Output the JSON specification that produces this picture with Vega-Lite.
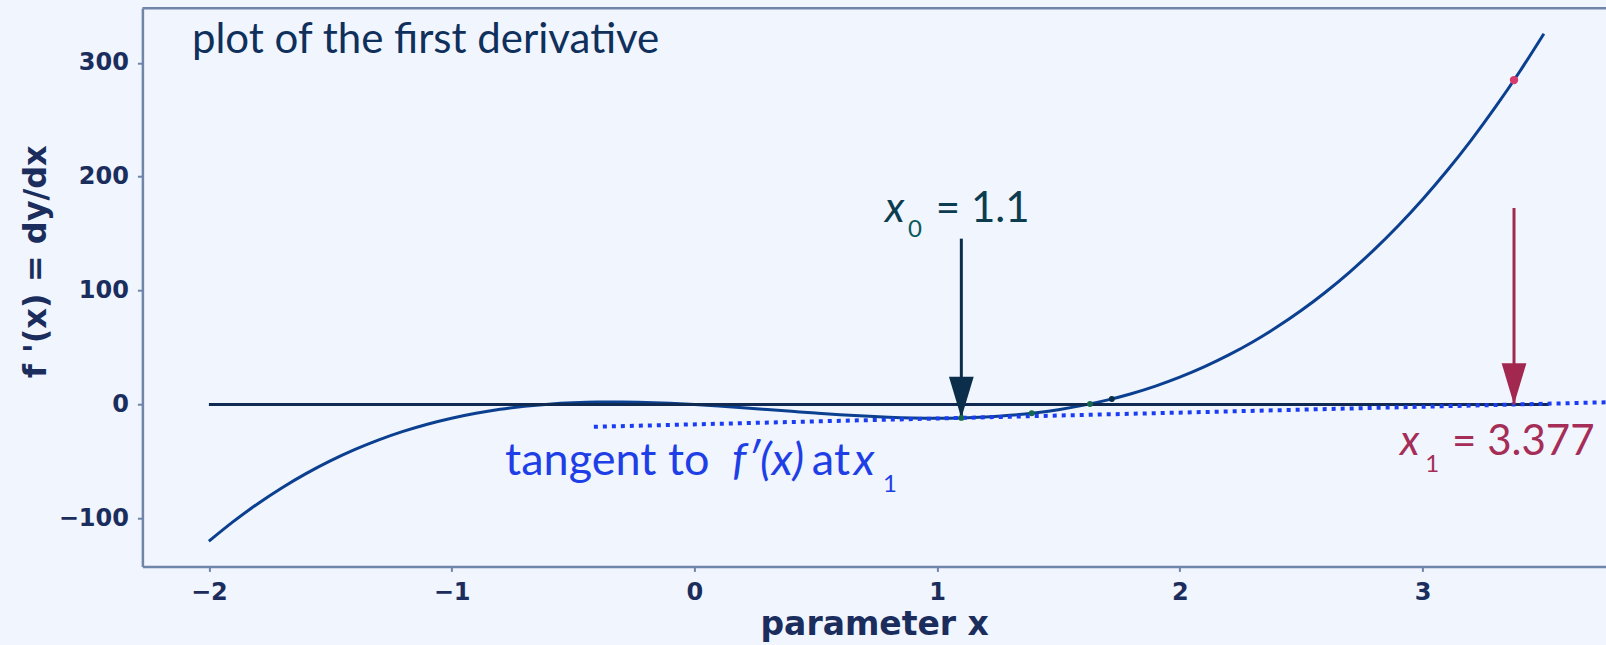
{
  "$schema": "https://vega.github.io/schema/vega-lite/v6.json",
  "autosize": {"type": "none"},
  "padding": {"left": 142.4, "top": 8.2, "right": 0, "bottom": 78.6},
  "width": 1463.6,
  "height": 558.2,
  "background": "#f0f5fe",
  "config": {
    "view": {"stroke": null},
    "axis": {
      "labelFont": "DejaVu Sans", "labelFontSize": 24, "labelFontWeight": "bold", "labelColor": "#1b2d5c",
      "titleFont": "DejaVu Sans", "titleFontSize": 33, "titleFontWeight": "bold", "titleColor": "#1b2d5c",
      "tickColor": "#7085aa", "tickWidth": 2, "tickSize": 5,
      "domainColor": "#7085aa", "domainWidth": 2.5, "grid": false
    }
  },
  "datasets": {
    "curve": [
      {"x": -2.0, "y": -120}, {"x": -1.9, "y": -102.828}, {"x": -1.8, "y": -87.264}, {"x": -1.7, "y": -73.236},
      {"x": -1.6, "y": -60.672}, {"x": -1.5, "y": -49.5}, {"x": -1.4, "y": -39.648}, {"x": -1.3, "y": -31.044},
      {"x": -1.2, "y": -23.616}, {"x": -1.1, "y": -17.292}, {"x": -1.0, "y": -12}, {"x": -0.9, "y": -7.668},
      {"x": -0.8, "y": -4.224}, {"x": -0.7, "y": -1.596}, {"x": -0.6, "y": 0.288}, {"x": -0.5, "y": 1.5},
      {"x": -0.4, "y": 2.112}, {"x": -0.3, "y": 2.196}, {"x": -0.2, "y": 1.824}, {"x": -0.1, "y": 1.068},
      {"x": 0.0, "y": 0}, {"x": 0.1, "y": -1.308}, {"x": 0.2, "y": -2.784}, {"x": 0.3, "y": -4.356},
      {"x": 0.4, "y": -5.952}, {"x": 0.5, "y": -7.5}, {"x": 0.6, "y": -8.928}, {"x": 0.7, "y": -10.164},
      {"x": 0.8, "y": -11.136}, {"x": 0.9, "y": -11.772}, {"x": 1.0, "y": -12}, {"x": 1.1, "y": -11.748},
      {"x": 1.2, "y": -10.944}, {"x": 1.3, "y": -9.516}, {"x": 1.4, "y": -7.392}, {"x": 1.5, "y": -4.5},
      {"x": 1.6, "y": -0.768}, {"x": 1.7, "y": 3.876}, {"x": 1.8, "y": 9.504}, {"x": 1.9, "y": 16.188},
      {"x": 2.0, "y": 24}, {"x": 2.1, "y": 33.012}, {"x": 2.2, "y": 43.296}, {"x": 2.3, "y": 54.924},
      {"x": 2.4, "y": 67.968}, {"x": 2.5, "y": 82.5}, {"x": 2.6, "y": 98.592}, {"x": 2.7, "y": 116.316},
      {"x": 2.8, "y": 135.744}, {"x": 2.9, "y": 156.948}, {"x": 3.0, "y": 180}, {"x": 3.1, "y": 204.972},
      {"x": 3.2, "y": 231.936}, {"x": 3.3, "y": 260.964}, {"x": 3.4, "y": 292.128}, {"x": 3.5, "y": 325.5}
    ],
    "zero": [{"x": -2, "y": 0}, {"x": 3.52, "y": 0}],
    "tangent": [{"x": -0.414, "y": -19.54}, {"x": 3.756, "y": 1.96}],
    "arrows": [
      {"arrow": "x0", "x": 1.1, "ytop": 145.6, "ytip": -11.748},
      {"arrow": "x1", "x": 3.377, "ytop": 172.5, "ytip": 0}
    ],
    "points": [
      {"kind": "iter", "x": 1.1, "y": -11.748},
      {"kind": "iter", "x": 1.39, "y": -7.64},
      {"kind": "iter", "x": 1.63, "y": 0.53},
      {"kind": "last", "x": 1.72, "y": 4.92},
      {"kind": "x1", "x": 3.377, "y": 284.8}
    ],
    "texts": [
      {"label": "title", "text": "plot of the first derivative", "x": -2.07, "y": 308.6},
      {"label": "x0_var", "text": "x", "x": 0.785, "y": 160.2},
      {"label": "x0_sub", "text": "0", "x": 0.88, "y": 147.1},
      {"label": "x0_val", "text": "= 1.1", "x": 0.995, "y": 160.2},
      {"label": "x1_var", "text": "x", "x": 2.907, "y": -44.3},
      {"label": "x1_sub", "text": "1", "x": 3.011, "y": -59.3},
      {"label": "x1_val", "text": "= 3.377", "x": 3.122, "y": -44.3},
      {"label": "tan_up", "text": "tangent to", "x": -0.78, "y": -61.9},
      {"label": "tan_it", "text": "f′(x)", "x": 0.155, "y": -61.9},
      {"label": "tan_up", "text": "at", "x": 0.484, "y": -61.9},
      {"label": "tan_it", "text": "x", "x": 0.657, "y": -61.9},
      {"label": "tan_sub", "text": "1", "x": 0.777, "y": -76.8}
    ]
  },
  "layer": [
    {
      "data": {"name": "curve"},
      "mark": {"type": "line", "color": "#0b3f8f", "strokeWidth": 3, "interpolate": "monotone"},
      "encoding": {
        "x": {"field": "x", "type": "quantitative", "scale": {"domain": [-2.274, 3.756], "nice": false, "zero": false},
              "axis": {"values": [-2, -1, 0, 1, 2, 3], "format": "d", "title": "parameter x", "labelPadding": 9}},
        "y": {"field": "y", "type": "quantitative", "scale": {"domain": [-142.1, 347.9], "nice": false, "zero": false},
              "axis": {"values": [-100, 0, 100, 200, 300], "format": "d", "title": "f '(x) = dy/dx", "labelPadding": 9,
                       "titleFontSize": 32, "titleX": -90, "titleY": 253, "titleBaseline": "bottom", "titleAlign": "center", "titleAngle": -90}}
      }
    },
    {
      "data": {"values": [{}]},
      "mark": {"type": "rule", "color": "#7085aa", "strokeWidth": 2.5},
      "encoding": {"y": {"datum": 347.9}}
    },
    {
      "data": {"name": "zero"},
      "mark": {"type": "line", "color": "#102a52", "strokeWidth": 3},
      "encoding": {
        "x": {"field": "x", "type": "quantitative"},
        "y": {"field": "y", "type": "quantitative"}
      }
    },
    {
      "data": {"name": "tangent"},
      "mark": {"type": "line", "color": "#1a3cf2", "strokeWidth": 4, "strokeDash": [4, 5], "strokeCap": "butt"},
      "encoding": {
        "x": {"field": "x", "type": "quantitative"},
        "y": {"field": "y", "type": "quantitative"}
      }
    },
    {
      "data": {"name": "arrows"},
      "mark": {"type": "rule", "strokeWidth": 3},
      "encoding": {
        "x": {"field": "x", "type": "quantitative"},
        "y": {"field": "ytop", "type": "quantitative"},
        "y2": {"field": "ytip"},
        "color": {"field": "arrow", "type": "nominal", "scale": {"domain": ["x0", "x1"], "range": ["#0b2f4a", "#a3284f"]}, "legend": null}
      }
    },
    {
      "data": {"name": "arrows"},
      "mark": {"type": "point", "shape": "M -0.6 -2 L 0.6 -2 L 0 0 Z", "size": 1700, "filled": true, "opacity": 1, "strokeWidth": 0},
      "encoding": {
        "x": {"field": "x", "type": "quantitative"},
        "y": {"field": "ytip", "type": "quantitative"},
        "color": {"field": "arrow", "type": "nominal", "legend": null}
      }
    },
    {
      "data": {"name": "points"},
      "transform": [{"filter": "datum.kind === 'iter'"}],
      "mark": {"type": "circle", "size": 35, "color": "#16694f", "opacity": 1},
      "encoding": {
        "x": {"field": "x", "type": "quantitative"},
        "y": {"field": "y", "type": "quantitative"}
      }
    },
    {
      "data": {"name": "points"},
      "transform": [{"filter": "datum.kind === 'last'"}],
      "mark": {"type": "circle", "size": 35, "color": "#0d2f45", "opacity": 1},
      "encoding": {
        "x": {"field": "x", "type": "quantitative"},
        "y": {"field": "y", "type": "quantitative"}
      }
    },
    {
      "data": {"name": "points"},
      "transform": [{"filter": "datum.kind === 'x1'"}],
      "mark": {"type": "circle", "size": 70, "color": "#d83a6c", "opacity": 1},
      "encoding": {
        "x": {"field": "x", "type": "quantitative"},
        "y": {"field": "y", "type": "quantitative"}
      }
    },
    {
      "data": {"name": "texts"},
      "transform": [{"filter": "datum.label === 'title'"}],
      "mark": {"type": "text", "align": "left", "baseline": "alphabetic", "font": "Lato", "fontSize": 42, "color": "#10305c"},
      "encoding": {
        "x": {"field": "x", "type": "quantitative"},
        "y": {"field": "y", "type": "quantitative"},
        "text": {"field": "text"}
      }
    },
    {
      "data": {"name": "texts"},
      "transform": [{"filter": "datum.label === 'x0_var'"}],
      "mark": {"type": "text", "align": "left", "baseline": "alphabetic", "font": "Lato", "fontSize": 42, "fontStyle": "italic", "color": "#0b3c4f"},
      "encoding": {
        "x": {"field": "x", "type": "quantitative"},
        "y": {"field": "y", "type": "quantitative"},
        "text": {"field": "text"}
      }
    },
    {
      "data": {"name": "texts"},
      "transform": [{"filter": "datum.label === 'x0_sub'"}],
      "mark": {"type": "text", "align": "left", "baseline": "alphabetic", "font": "Lato", "fontSize": 24, "color": "#0b5a5a"},
      "encoding": {
        "x": {"field": "x", "type": "quantitative"},
        "y": {"field": "y", "type": "quantitative"},
        "text": {"field": "text"}
      }
    },
    {
      "data": {"name": "texts"},
      "transform": [{"filter": "datum.label === 'x0_val'"}],
      "mark": {"type": "text", "align": "left", "baseline": "alphabetic", "font": "Lato", "fontSize": 42, "color": "#0b3c4f"},
      "encoding": {
        "x": {"field": "x", "type": "quantitative"},
        "y": {"field": "y", "type": "quantitative"},
        "text": {"field": "text"}
      }
    },
    {
      "data": {"name": "texts"},
      "transform": [{"filter": "datum.label === 'x1_var'"}],
      "mark": {"type": "text", "align": "left", "baseline": "alphabetic", "font": "Lato", "fontSize": 42, "fontStyle": "italic", "color": "#a52d57"},
      "encoding": {
        "x": {"field": "x", "type": "quantitative"},
        "y": {"field": "y", "type": "quantitative"},
        "text": {"field": "text"}
      }
    },
    {
      "data": {"name": "texts"},
      "transform": [{"filter": "datum.label === 'x1_sub'"}],
      "mark": {"type": "text", "align": "left", "baseline": "alphabetic", "font": "Lato", "fontSize": 24, "color": "#a52d57"},
      "encoding": {
        "x": {"field": "x", "type": "quantitative"},
        "y": {"field": "y", "type": "quantitative"},
        "text": {"field": "text"}
      }
    },
    {
      "data": {"name": "texts"},
      "transform": [{"filter": "datum.label === 'x1_val'"}],
      "mark": {"type": "text", "align": "left", "baseline": "alphabetic", "font": "Lato", "fontSize": 42, "color": "#a52d57"},
      "encoding": {
        "x": {"field": "x", "type": "quantitative"},
        "y": {"field": "y", "type": "quantitative"},
        "text": {"field": "text"}
      }
    },
    {
      "data": {"name": "texts"},
      "transform": [{"filter": "datum.label === 'tan_up'"}],
      "mark": {"type": "text", "align": "left", "baseline": "alphabetic", "font": "Lato", "fontSize": 45, "color": "#1f3fe6"},
      "encoding": {
        "x": {"field": "x", "type": "quantitative"},
        "y": {"field": "y", "type": "quantitative"},
        "text": {"field": "text"}
      }
    },
    {
      "data": {"name": "texts"},
      "transform": [{"filter": "datum.label === 'tan_it'"}],
      "mark": {"type": "text", "align": "left", "baseline": "alphabetic", "font": "Lato", "fontSize": 45, "fontStyle": "italic", "color": "#1f3fe6"},
      "encoding": {
        "x": {"field": "x", "type": "quantitative"},
        "y": {"field": "y", "type": "quantitative"},
        "text": {"field": "text"}
      }
    },
    {
      "data": {"name": "texts"},
      "transform": [{"filter": "datum.label === 'tan_sub'"}],
      "mark": {"type": "text", "align": "left", "baseline": "alphabetic", "font": "Lato", "fontSize": 24, "color": "#1f3fe6"},
      "encoding": {
        "x": {"field": "x", "type": "quantitative"},
        "y": {"field": "y", "type": "quantitative"},
        "text": {"field": "text"}
      }
    }
  ]
}
